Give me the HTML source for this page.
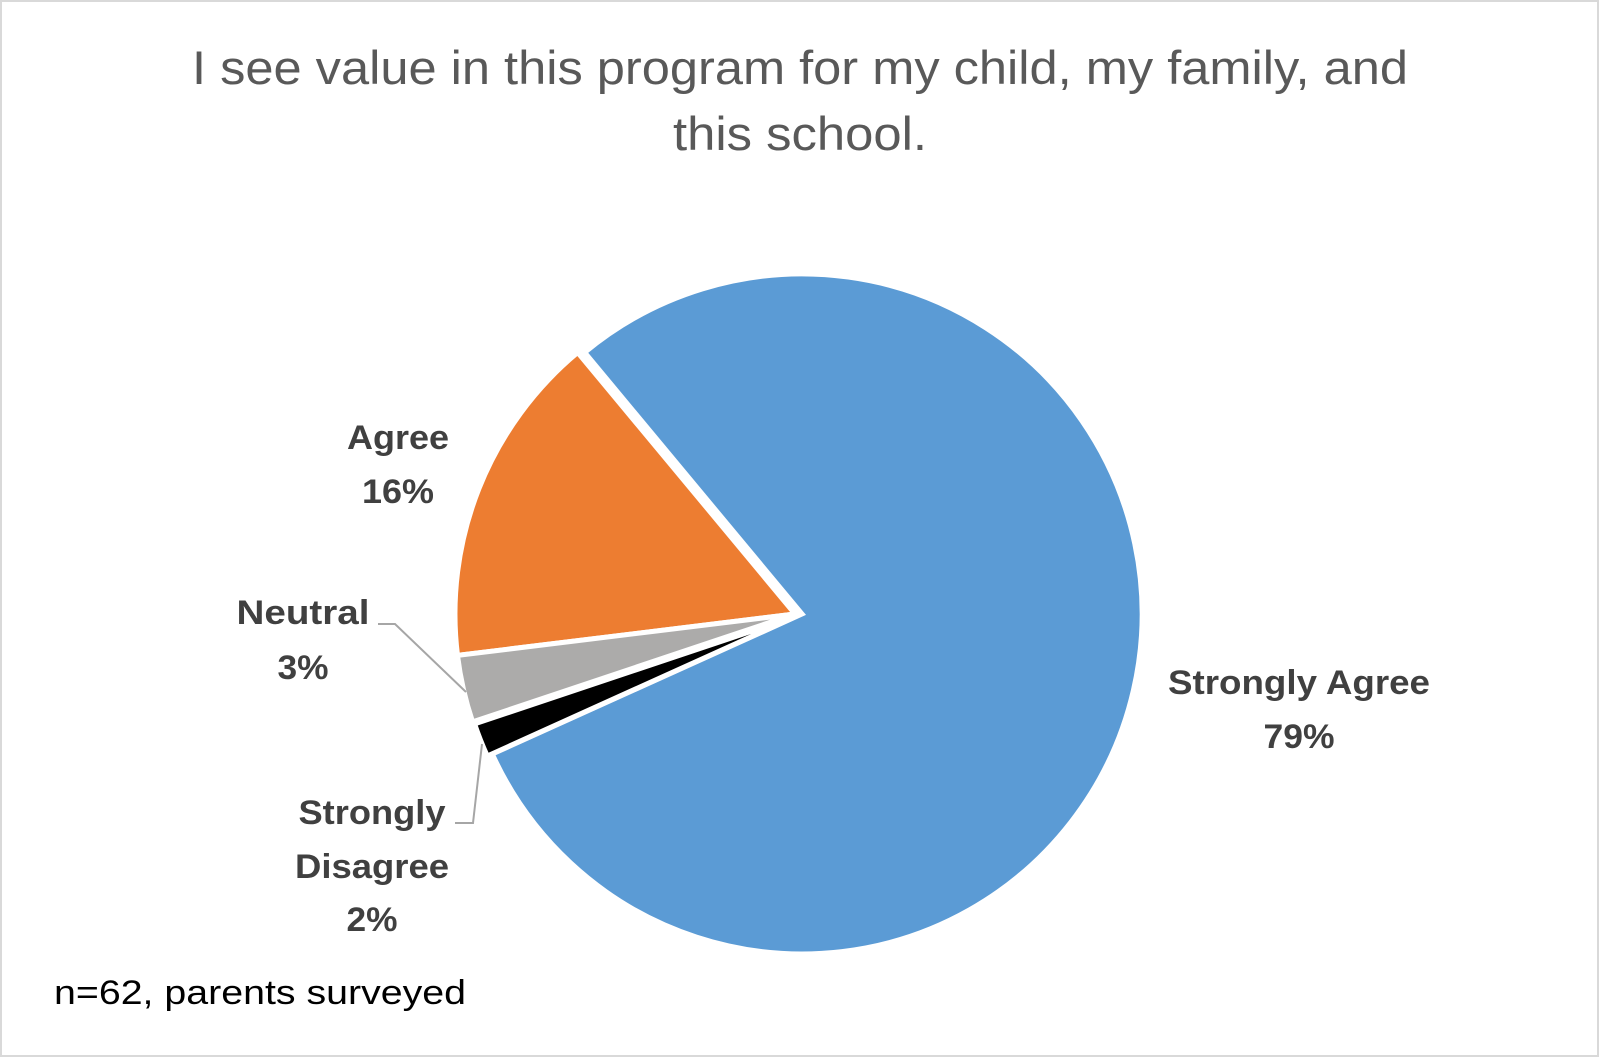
<!DOCTYPE html>
<html><head><meta charset="utf-8"><style>
html,body{margin:0;padding:0;background:#fff;}
svg{display:block;}
</style></head><body>
<svg width="1600" height="1058" viewBox="0 0 1600 1058" xmlns="http://www.w3.org/2000/svg">
<rect x="1" y="1" width="1597" height="1055" fill="#fff" stroke="#d9d9d9" stroke-width="2"/>
<g font-family="'Liberation Sans', Arial, sans-serif">
<text x="800" y="84" text-anchor="middle" font-size="47" fill="#595959" textLength="1216" lengthAdjust="spacingAndGlyphs">I see value in this program for my child, my family, and</text>
<text x="800" y="150" text-anchor="middle" font-size="47" fill="#595959" textLength="254" lengthAdjust="spacingAndGlyphs">this school.</text>
</g>
<g stroke="#fff" stroke-width="5" stroke-linejoin="miter">
<path d="M802,614 L584.7,352.5 A340,340 0 1 1 492.3,754 Z" fill="#5b9bd5"/>
<path d="M795,614 L457.5,655.4 A340,340 0 0 1 577.7,352.5 Z" fill="#ed7d31"/>
<path d="M795,614 L472.6,721.9 A340,340 0 0 1 457.5,655.4 Z" fill="#acabaa"/>
<path d="M797,616 L487.3,756 A340,340 0 0 1 474.6,723.9 Z" fill="#000"/>
</g>
<g fill="none" stroke="#a6a6a6" stroke-width="2">
<polyline points="378,624 395,624 466,692"/>
<polyline points="455,823 473,823 482,744"/>
</g>
<g font-family="'Liberation Sans', Arial, sans-serif" font-weight="bold" font-size="34" fill="#404040" text-anchor="middle" lengthAdjust="spacingAndGlyphs">
<text x="398" y="449" textLength="102" lengthAdjust="spacingAndGlyphs">Agree</text>
<text x="398" y="503" textLength="72" lengthAdjust="spacingAndGlyphs">16%</text>
<text x="303" y="624" textLength="133" lengthAdjust="spacingAndGlyphs">Neutral</text>
<text x="303" y="679" textLength="51" lengthAdjust="spacingAndGlyphs">3%</text>
<text x="1299" y="694" textLength="262" lengthAdjust="spacingAndGlyphs">Strongly Agree</text>
<text x="1299" y="748" textLength="71" lengthAdjust="spacingAndGlyphs">79%</text>
<text x="372" y="824" textLength="147" lengthAdjust="spacingAndGlyphs">Strongly</text>
<text x="372" y="878" textLength="154" lengthAdjust="spacingAndGlyphs">Disagree</text>
<text x="372" y="931" textLength="51" lengthAdjust="spacingAndGlyphs">2%</text>
</g>
<text x="54" y="1004" font-family="'Liberation Sans', Arial, sans-serif" font-size="34" fill="#000" textLength="412" lengthAdjust="spacingAndGlyphs">n=62, parents surveyed</text>
</svg>
</body></html>
